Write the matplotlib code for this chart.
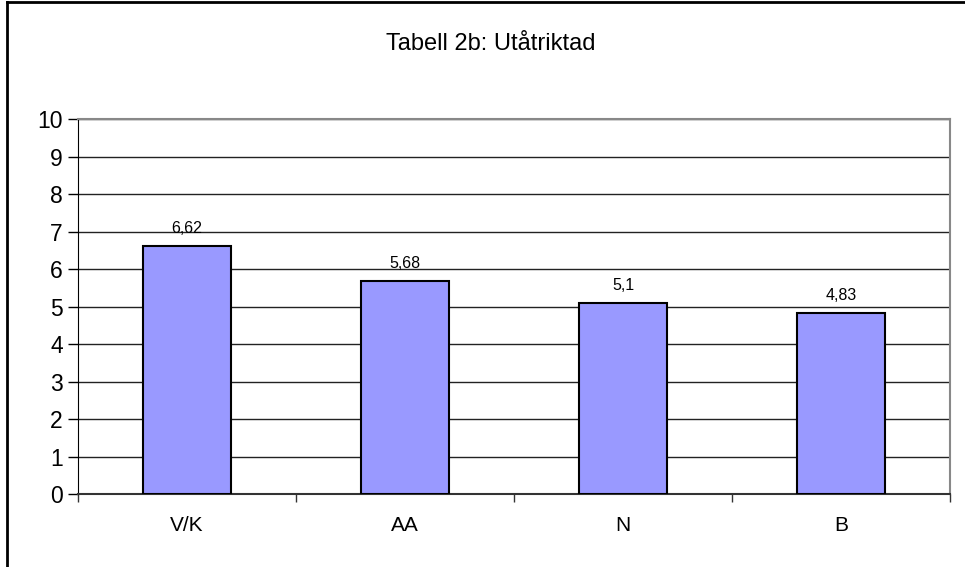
import matplotlib.pyplot as plt
from matplotlib.lines import Line2D

plt.rcParams['font.family'] = ['Liberation Sans', 'DejaVu Sans']

# Data
kategorier = ["V/K", "AA", "N", "B"]
varden = [6.62, 5.68, 5.1, 4.83]
etiketter = ["6,62", "5,68", "5,1", "4,83"]
titel = "Tabell 2b: Utåtriktad"

fig = plt.figure(figsize=(9.65, 5.67), dpi=100)
ax = fig.add_axes([0.0808, 0.1287, 0.9037, 0.6613])

x = list(range(len(kategorier)))
staplar = ax.bar(x, varden, width=0.4, color='#9999FF', edgecolor='black', linewidth=1.5, zorder=3)

for s, txt in zip(staplar, etiketter):
    ax.text(s.get_x() + s.get_width() / 2, s.get_height() + 0.26, txt,
            ha='center', va='bottom', fontsize=11.5, zorder=4)

ax.set_xlim(-0.5, len(kategorier) - 0.5)
ax.set_ylim(0, 10)
ax.set_yticks(range(0, 11))
ax.set_xticks(x)
ax.set_xticklabels(kategorier)
ax.set_xticks([i - 0.5 for i in range(len(kategorier) + 1)], minor=True)
ax.tick_params(axis='y', labelsize=16.5, direction='out', length=7, width=1, pad=4)
ax.tick_params(axis='x', which='major', labelsize=15, length=0, pad=16)
ax.tick_params(axis='x', which='minor', direction='out', length=6, width=1, color='#333333')

ax.yaxis.grid(True, color='#222222', linewidth=1, zorder=0)
ax.set_axisbelow(True)

ax.spines['left'].set_color('black')
ax.spines['bottom'].set_color('#333333')
ax.spines['bottom'].set_linewidth(1.5)
ax.spines['top'].set_color('#888888')
ax.spines['right'].set_color('#888888')
ax.spines['top'].set_linewidth(1.5)
ax.spines['right'].set_linewidth(1.5)

fig.text(0.509, 0.922, titel, ha='center', va='center', fontsize=17)

# yttre ram (bara vänster och övre syns)
fig.add_artist(Line2D([0.0075, 0.0075], [0, 0.997], transform=fig.transFigure, color='black', linewidth=2))
fig.add_artist(Line2D([0.0075, 1], [0.997, 0.997], transform=fig.transFigure, color='black', linewidth=2))

fig.savefig('out.png', dpi=100)
